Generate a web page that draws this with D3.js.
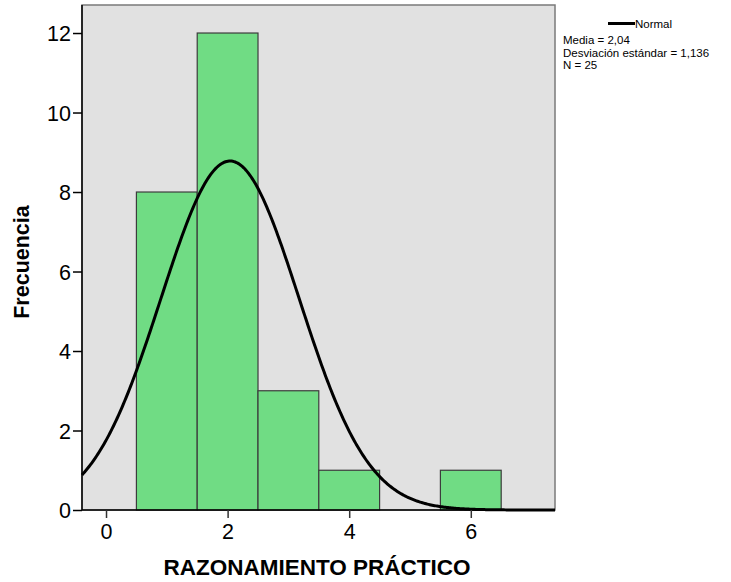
<!DOCTYPE html>
<html><head><meta charset="utf-8">
<script src="https://cdn.jsdelivr.net/npm/d3@7"></script>
<style>body{margin:0;background:#fff}svg{display:block}text{font-family:Arial,"Liberation Sans",sans-serif}</style>
</head><body><svg id="c" width="731" height="582"></svg>
<script>
const binStarts = [0.5, 1.5, 2.5, 3.5, 5.5];
const binEnds   = [1.5, 2.5, 3.5, 4.5, 6.5];
const counts    = [8, 12, 3, 1, 1];
const xTicks = [0, 2, 4, 6];
const yTicks = [0, 2, 4, 6, 8, 10, 12];
const mean = 2.04, sd = 1.136, n = 25, binWidth = 1;
const legendLines = ["Media = 2,04", "Desviación estándar = 1,136", "N = 25"];

const svg = d3.select("#c");
const L = 82, R = 555, T = 5, B = 510;
const x = d3.scaleLinear().domain([-0.395, 7.385]).range([L, R]);
const y = d3.scaleLinear().domain([0, 12.705]).range([B, T]);

svg.append("rect").attr("x", L).attr("y", T).attr("width", R - L).attr("height", B - T)
  .attr("fill", "#e1e1e1").attr("stroke", "#7a7a7a").attr("stroke-width", 1.5);

const bins = counts.map((c, i) => ({x0: binStarts[i], x1: binEnds[i], c}));
svg.append("g").selectAll("rect").data(bins).join("rect")
  .attr("x", d => x(d.x0)).attr("y", d => y(d.c))
  .attr("width", d => x(d.x1) - x(d.x0)).attr("height", d => y(0) - y(d.c))
  .attr("fill", "#70dc84").attr("stroke", "#3c3c3c").attr("stroke-width", 1.2);

const pdf = v => n * binWidth * Math.exp(-0.5 * ((v - mean) / sd) ** 2) / (sd * Math.sqrt(2 * Math.PI));
const xs = d3.range(-0.395, 7.386, 0.02);
svg.append("path").datum(xs)
  .attr("d", d3.line().x(v => x(v)).y(v => y(pdf(v))).curve(d3.curveLinear))
  .attr("fill", "none").attr("stroke", "#000").attr("stroke-width", 3);

svg.append("line").attr("x1", L).attr("x2", L).attr("y1", T).attr("y2", B).attr("stroke", "#000").attr("stroke-width", 1.5);
svg.append("line").attr("x1", L).attr("x2", R).attr("y1", B).attr("y2", B).attr("stroke", "#000").attr("stroke-width", 1.5);

const yAxis = d3.axisLeft(y).tickValues(yTicks).tickSize(9).tickPadding(2).tickFormat(d3.format("d"));
const gy = svg.append("g").attr("transform", `translate(${L},0)`).call(yAxis);
gy.select(".domain").remove();
gy.selectAll("line").attr("stroke", "#000").attr("stroke-width", 1.5);
gy.selectAll("text").attr("font-size", 21.5).attr("fill", "#000").attr("dy", "0.36em");

const xAxis = d3.axisBottom(x).tickValues(xTicks).tickSize(8).tickPadding(6).tickFormat(d3.format("d"));
const gx = svg.append("g").attr("transform", `translate(0,${B})`).call(xAxis);
gx.select(".domain").remove();
gx.selectAll("line").attr("stroke", "#333").attr("stroke-width", 1.5);
gx.selectAll("text").attr("font-size", 21.5).attr("fill", "#000");

svg.append("text").attr("x", 317).attr("y", 575).attr("text-anchor", "middle")
  .attr("font-size", 22.5).attr("font-weight", "bold").text("RAZONAMIENTO PRÁCTICO");
svg.append("text").attr("transform", "translate(29,262) rotate(-90)").attr("text-anchor", "middle")
  .attr("font-size", 21.5).attr("font-weight", "bold").text("Frecuencia");

svg.append("line").attr("x1", 608).attr("x2", 635).attr("y1", 23.5).attr("y2", 23.5).attr("stroke", "#000").attr("stroke-width", 3);
svg.append("text").attr("x", 635).attr("y", 28).attr("font-size", 11.5).text("Normal");
svg.append("g").selectAll("text").data(legendLines).join("text")
  .attr("x", 563).attr("y", (d, i) => 44 + i * 12.5).attr("font-size", 11.5).text(d => d);
</script></body></html>
